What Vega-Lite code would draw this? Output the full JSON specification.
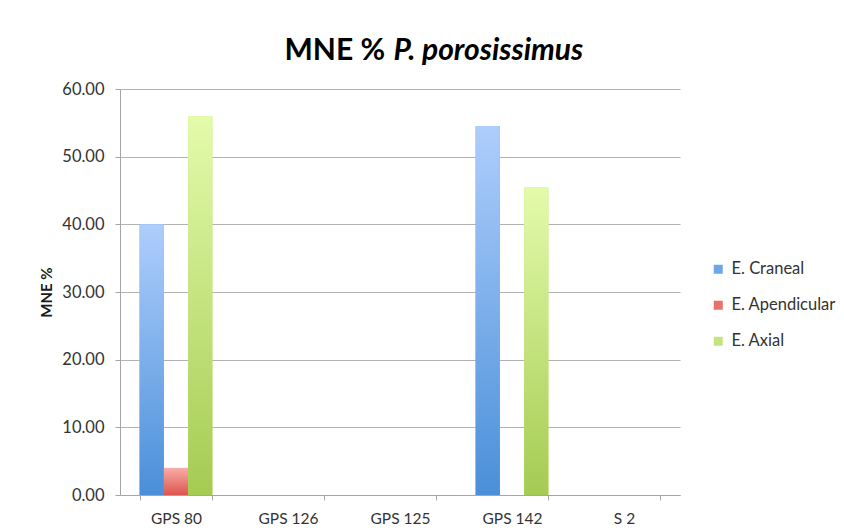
{
  "$schema": "https://vega.github.io/schema/vega-lite/v6.json",
  "autosize": {"type": "none"},
  "padding": {"left": 120, "top": 89, "right": 164, "bottom": 37},
  "width": 560,
  "height": 406,
  "background": "white",
  "config": {
    "font": "Lato",
    "view": {"stroke": null},
    "axis": {"labelFont": "Lato", "titleFont": "Lato", "labelColor": "#333333", "titleColor": "#1a1a1a"},
    "legend": {"labelFont": "Lato"}
  },
  "data": {
    "values": [
      {"muestra": "GPS 80", "serie": "E. Craneal", "valor": 40.0},
      {"muestra": "GPS 80", "serie": "E. Apendicular", "valor": 4.0},
      {"muestra": "GPS 80", "serie": "E. Axial", "valor": 56.0},
      {"muestra": "GPS 126", "serie": "E. Craneal", "valor": 0},
      {"muestra": "GPS 126", "serie": "E. Apendicular", "valor": 0},
      {"muestra": "GPS 126", "serie": "E. Axial", "valor": 0},
      {"muestra": "GPS 125", "serie": "E. Craneal", "valor": 0},
      {"muestra": "GPS 125", "serie": "E. Apendicular", "valor": 0},
      {"muestra": "GPS 125", "serie": "E. Axial", "valor": 0},
      {"muestra": "GPS 142", "serie": "E. Craneal", "valor": 54.55},
      {"muestra": "GPS 142", "serie": "E. Apendicular", "valor": 0},
      {"muestra": "GPS 142", "serie": "E. Axial", "valor": 45.45},
      {"muestra": "S 2", "serie": "E. Craneal", "valor": 0},
      {"muestra": "S 2", "serie": "E. Apendicular", "valor": 0},
      {"muestra": "S 2", "serie": "E. Axial", "valor": 0}
    ]
  },
  "layer": [
    {
      "mark": {"type": "bar"},
      "encoding": {
        "x": {
          "field": "muestra", "type": "nominal",
          "sort": ["GPS 80", "GPS 126", "GPS 125", "GPS 142", "S 2"],
          "scale": {"paddingInner": 0.35, "paddingOuter": 0.175},
          "axis": {
            "title": null, "labelAngle": 0, "tickBand": "extent",
            "labelFontSize": 15.5, "labelPadding": 11, "tickSize": 5,
            "domainColor": "#a6a6a6", "tickColor": "#a6a6a6", "grid": false
          }
        },
        "xOffset": {
          "field": "serie", "type": "nominal",
          "scale": {"domain": ["E. Craneal", "E. Apendicular", "E. Axial"], "paddingInner": 0, "paddingOuter": 0}
        },
        "y": {
          "field": "valor", "type": "quantitative",
          "scale": {"domain": [0, 60], "nice": false},
          "axis": {
            "title": "MNE %", "titleFontSize": 15, "titleFontWeight": "bold", "titlePadding": 7,
            "values": [0, 10, 20, 30, 40, 50, 60], "format": ".2f",
            "labelFontSize": 16.5, "labelPadding": 11, "tickSize": 5,
            "domainColor": "#a6a6a6", "tickColor": "#a6a6a6",
            "gridColor": "#b3b3b3", "gridWidth": 1.2
          }
        },
        "color": {
          "field": "serie", "type": "nominal",
          "scale": {
            "domain": ["E. Craneal", "E. Apendicular", "E. Axial"],
            "range": ["#6fa6e9", "#e9716c", "#c4e47f"]
          },
          "legend": {
            "title": null, "orient": "none", "legendX": 590, "legendY": 172,
            "symbolType": "square", "symbolSize": 81, "symbolStrokeWidth": 0,
            "labelFontSize": 16.5, "labelColor": "#333333", "labelOffset": 5,
            "rowPadding": 19, "padding": 0
          }
        }
      }
    },
    {
      "transform": [{"filter": "datum.serie === 'E. Craneal'"}],
      "mark": {"type": "bar", "color": {"gradient": "linear", "x1": 0, "y1": 0, "x2": 0, "y2": 1, "stops": [{"offset": 0, "color": "#aecefc"}, {"offset": 1, "color": "#4a8fd9"}]}},
      "encoding": {
        "x": {"field": "muestra", "type": "nominal", "sort": ["GPS 80", "GPS 126", "GPS 125", "GPS 142", "S 2"], "axis": null},
        "xOffset": {"field": "serie", "type": "nominal"},
        "y": {"field": "valor", "type": "quantitative", "axis": null}
      }
    },
    {
      "transform": [{"filter": "datum.serie === 'E. Apendicular'"}],
      "mark": {"type": "bar", "color": {"gradient": "linear", "x1": 0, "y1": 0, "x2": 0, "y2": 1, "stops": [{"offset": 0, "color": "#f9aca8"}, {"offset": 1, "color": "#dc554f"}]}},
      "encoding": {
        "x": {"field": "muestra", "type": "nominal", "sort": ["GPS 80", "GPS 126", "GPS 125", "GPS 142", "S 2"], "axis": null},
        "xOffset": {"field": "serie", "type": "nominal"},
        "y": {"field": "valor", "type": "quantitative", "axis": null}
      }
    },
    {
      "transform": [{"filter": "datum.serie === 'E. Axial'"}],
      "mark": {"type": "bar", "color": {"gradient": "linear", "x1": 0, "y1": 0, "x2": 0, "y2": 1, "stops": [{"offset": 0, "color": "#e3fbab"}, {"offset": 1, "color": "#a5cb52"}]}},
      "encoding": {
        "x": {"field": "muestra", "type": "nominal", "sort": ["GPS 80", "GPS 126", "GPS 125", "GPS 142", "S 2"], "axis": null},
        "xOffset": {"field": "serie", "type": "nominal"},
        "y": {"field": "valor", "type": "quantitative", "axis": null}
      }
    },
    {
      "mark": {"type": "text", "text": ""},
      "encoding": {
        "x": {
          "field": "muestra", "type": "nominal",
          "sort": ["GPS 80", "GPS 126", "GPS 125", "GPS 142", "S 2"],
          "axis": {
            "orient": "top", "labels": false, "ticks": false, "domain": false, "grid": false,
            "title": "P. porosissimus", "titleFontSize": 30, "titleFontWeight": "bold", "titleFontStyle": "italic",
            "titleAlign": "left", "titleAnchor": "start", "titleBaseline": "alphabetic",
            "titleX": 273, "titleY": -30, "titleColor": "#000000"
          }
        },
        "y": {
          "field": "valor", "type": "quantitative",
          "axis": {
            "orient": "right", "labels": false, "ticks": false, "domain": false, "grid": false,
            "title": "MNE %", "titleFontSize": 30, "titleFontWeight": "bold", "titleAngle": 0,
            "titleAlign": "left", "titleAnchor": "start", "titleBaseline": "alphabetic",
            "titleX": -396, "titleY": -30, "titleColor": "#000000"
          }
        }
      }
    }
  ],
  "resolve": {"axis": {"x": "independent", "y": "independent"}}
}
